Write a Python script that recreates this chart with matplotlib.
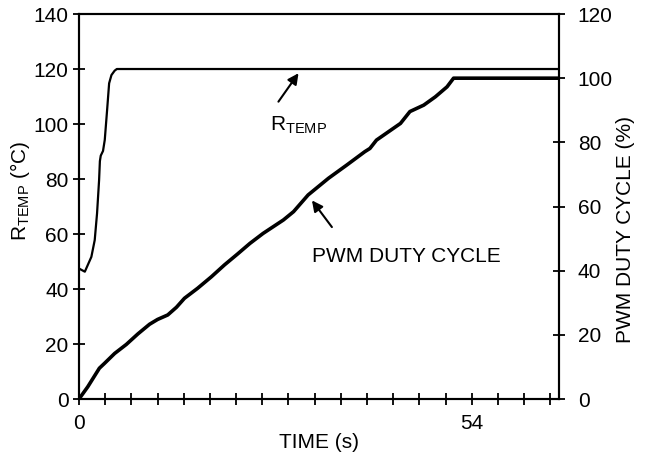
import matplotlib
matplotlib.use('Agg')
import matplotlib.pyplot as plt
import matplotlib.transforms as mtransforms
import numpy as np

plt.rcParams['font.family'] = ['Liberation Sans', 'DejaVu Sans']
plt.rcParams['mathtext.fontset'] = 'custom'
plt.rcParams['mathtext.rm'] = 'Liberation Sans'
plt.rcParams['font.size'] = 15

# R_TEMP curve (left axis, degC)
t_rtemp = [0.0, 0.1, 0.8, 1.7, 2.16, 2.48, 2.76, 2.87, 2.99, 3.3, 3.54, 3.86,
           4.14, 4.46, 4.9, 5.2, 66.0]
rtemp = [47.5, 47.3, 46.3, 51.7, 57.8, 67.5, 79.6, 86.5, 88.5, 90.2, 94.2, 105.0,
         114.8, 117.8, 119.4, 120.0, 120.0]

# PWM duty cycle (right axis, %)
t_pwm = [0.0, 1.2, 2.8, 3.5, 4.9, 6.5, 8.1, 9.7, 10.8, 12.2, 13.4, 14.5, 16.3,
         18.2, 20.0, 21.8, 23.5, 25.3, 28.1, 29.5, 31.5, 34.3, 36.8, 39.3, 40.0,
         40.9, 44.2, 45.5, 47.4, 49.0, 50.6, 51.5, 66.0]
pwm = [0.0, 3.8, 9.6, 11.1, 14.2, 17.0, 20.3, 23.3, 24.8, 26.2, 28.6, 31.4, 34.5,
       38.1, 41.8, 45.2, 48.5, 51.6, 55.8, 58.4, 63.6, 68.8, 72.9, 77.1, 78.1,
       80.7, 85.9, 89.6, 91.6, 94.2, 97.3, 100.0, 100.0]

x_ticks = np.arange(19) * 3.6
x_ticklabels = ['0' if i == 0 else ('54' if i == 15 else '') for i in range(19)]
left_ticks = [0, 20, 40, 60, 80, 100, 120, 140]
right_ticks = [0, 20, 40, 60, 80, 100, 120]

fig = plt.figure(figsize=(6.45, 4.58), dpi=100)
ax = fig.add_axes([0.1225, 0.1288, 0.7442, 0.8406])
ax2 = ax.twinx()

ax.plot(t_rtemp, rtemp, color='k', lw=1.6, solid_joinstyle='round')
ax2.plot(t_pwm, pwm, color='k', lw=2.6, solid_joinstyle='round')

ax.set_xlim(0, 66)
ax.set_ylim(0, 140)
ax2.set_ylim(0, 120)

ax.set_xticks(x_ticks)
ax.set_xticklabels(x_ticklabels)
ax.set_yticks(left_ticks)
ax2.set_yticks(right_ticks)

# tick labels on the time axis sit a little right of their ticks
shift = mtransforms.ScaledTranslation(4 / 100, 0, fig.dpi_scale_trans)
for lbl in ax.get_xticklabels():
    lbl.set_transform(lbl.get_transform() + shift)

for a in (ax, ax2):
    for s in a.spines.values():
        s.set_linewidth(1.5)
ax.tick_params(axis='both', direction='inout', length=9, width=1.3)
ax.tick_params(axis='x', pad=6)
ax.tick_params(axis='y', pad=3)
ax2.tick_params(axis='y', direction='inout', length=9, width=1.3, pad=9)

ax.set_xlabel('TIME (s)', labelpad=0)
ax.set_ylabel(r'R$_{\mathrm{TEMP}}$ (°C)')
ax.yaxis.set_label_coords(-0.097, 0.54)
ax2.set_ylabel('PWM DUTY CYCLE (%)')
ax2.yaxis.set_label_coords(1.119, 0.44)

ax.annotate('', xy=(30.4, 119.3), xytext=(27.2, 107.3),
            arrowprops=dict(arrowstyle='-|>', color='k', lw=1.5, mutation_scale=16))
ax.text(26.3, 97.8, r'R$_{\mathrm{TEMP}}$', ha='left', va='baseline')

ax2.annotate('', xy=(31.8, 62.6), xytext=(35.0, 52.9),
             arrowprops=dict(arrowstyle='-|>', color='k', lw=1.5, mutation_scale=16))
ax2.text(32.0, 42.8, 'PWM DUTY CYCLE', ha='left', va='baseline')

fig.savefig('out.png', dpi=100)
